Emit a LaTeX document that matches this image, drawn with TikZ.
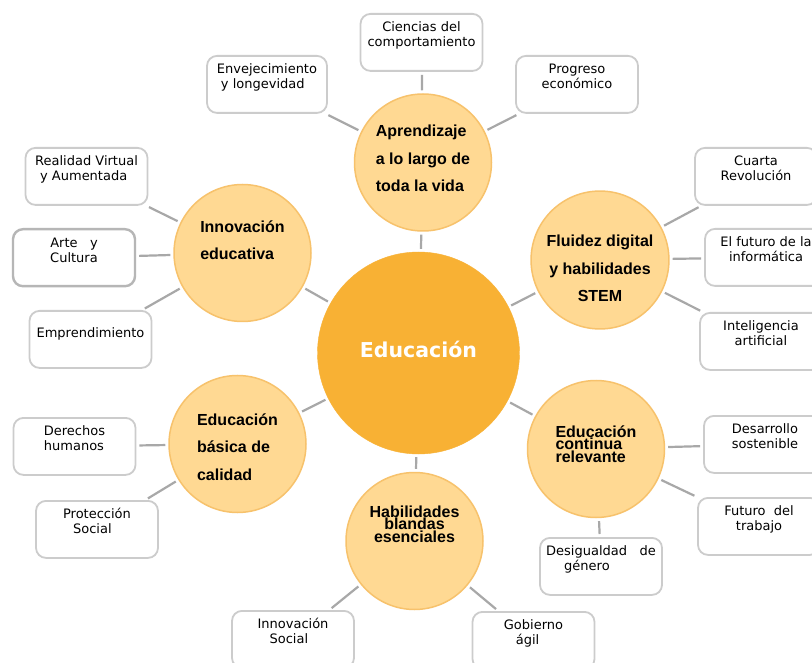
\documentclass[tikz,border=0pt]{standalone}
\usepackage{fontspec}
\usepackage{tikz}
\usetikzlibrary{positioning}
\newfontfamily\boxfont{DejaVu Sans}
\newfontfamily\ringfont{Liberation Sans}
\newfontfamily\hubfont{DejaVu Sans}
\newcommand\tightlines{\lineskiplimit -20pt\relax}
\definecolor{hubfill}{RGB}{248,177,52}
\definecolor{ringfill}{RGB}{255,217,147}
\definecolor{ringline}{RGB}{247,194,108}
\definecolor{boxline}{RGB}{204,204,204}
\definecolor{boxdark}{RGB}{182,182,182}
\definecolor{linkgray}{RGB}{168,168,168}
\tikzset{
  hub/.style={circle, fill=hubfill, draw=hubfill, minimum size=202pt, inner sep=0pt,
    text=white, font=\hubfont\bfseries\fontsize{20.5}{24}\selectfont},
  ring/.style={circle, fill=ringfill, draw=ringline, line width=1.5pt, minimum size=137pt,
    inner sep=0pt, font=\ringfont\bfseries\fontsize{16}{27.5}\selectfont},
  ringtight/.style={ring, font=\ringfont\bfseries\fontsize{16}{12.5}\selectfont\tightlines},
  topic/.style={draw=boxline, line width=1.8pt, rounded corners=10pt, fill=white,
    minimum width=122pt, inner xsep=4pt, inner ysep=7pt, anchor=north, align=center,
    text height=26pt, text depth=17pt, font=\boxfont\fontsize{13}{15}\selectfont},
  topicone/.style={topic, text height=20pt, text depth=23pt},
  link/.style={draw=linkgray, line width=2.2pt, shorten <=3pt, shorten >=3pt}
}
\begin{document}
\begin{tikzpicture}[x=1pt,y=-1pt]
  \path[use as bounding box, fill=white] (0,0) rectangle (812,663);

  % hub and the six themes
  \node[hub, text height=8pt, text depth=0pt] (edu) at (418.5,353) {Educación};
  \node[ring, align=left, text height=62pt, text depth=3pt] (apr) at (423,162.5)
    {Aprendizaje\\a lo largo de\\toda la vida};
  \node[ring, align=left, text height=40pt, text depth=26pt] (inn) at (242.5,253)
    {Innovación\\educativa};
  \node[ring, align=center, text height=86pt, text depth=2pt] (flu) at (600,260)
    {Fluidez digital\\y habilidades\\STEM};
  \node[ring, align=left, text height=74pt, text depth=2pt] (bas) at (237.5,444)
    {Educación\\básica de\\calidad};
  \node[ringtight, align=center, text height=36pt, text depth=34pt] (hab) at (414.5,541)
    {Habilidades\\blandas\\esenciales};
  \node[ringtight, align=left, text height=36pt, text depth=10pt] (con) at (596,449)
    {Educación\\continua\\relevante};

  % topic boxes
  \node[topic] (ciencias) at (421.5,13) {Ciencias del\\comportamiento};
  \node[topic] (progreso) at (577,55) {Progreso\\económico};
  \node[topic, minimum width=120pt, align=left] (envej) at (267,55)
    {Envejecimiento\\\hspace*{4pt}y longevidad};
  \node[topic, align=left] (realidad) at (86.5,147)
    {Realidad Virtual\\\hspace*{5pt}y Aumentada};
  \node[topic, draw=boxdark, line width=2.4pt] (arte) at (74,228) {Arte\ \ \ y\\Cultura};
  \node[topicone] (empr) at (90.5,310) {Emprendimiento};
  \node[topic] (cuarta) at (756,147) {Cuarta\\Revolución};
  \node[topic] (futinf) at (766,228) {El futuro de la\\informática};
  \node[topic] (ia) at (761,312) {Inteligencia\\artificial};
  \node[topic, align=left] (derechos) at (74.5,417) {Derechos\\humanos};
  \node[topic, align=left] (proteccion) at (97,500) {Protección\\\hspace*{10pt}Social};
  \node[topic, align=left] (innsocial) at (293,610) {Innovación\\\hspace*{12pt}Social};
  \node[topic, align=left] (gobierno) at (533.5,611) {Gobierno\\\hspace*{12pt}ágil};
  \node[topic, align=left] (desig) at (601,537) {Desigualdad\ \ \ de\\\hspace*{18pt}género};
  \node[topic] (desarrollo) at (765,415) {Desarrollo\\sostenible};
  \node[topic] (futtrab) at (759,497) {Futuro\ \ del\\trabajo};

  % connectors
  \foreach \a in {apr,inn,flu,bas,hab,con}
    \draw[link] (edu) -- (\a);
  \foreach \b in {ciencias,progreso,envej}
    \draw[link] (apr) -- (\b);
  \foreach \b in {realidad,arte,empr}
    \draw[link] (inn) -- (\b);
  \foreach \b in {cuarta,futinf,ia}
    \draw[link] (flu) -- (\b);
  \foreach \b in {derechos,proteccion}
    \draw[link] (bas) -- (\b);
  \foreach \b in {innsocial,gobierno}
    \draw[link] (hab) -- (\b);
  \foreach \b in {desig,desarrollo,futtrab}
    \draw[link] (con) -- (\b);
\end{tikzpicture}
\end{document}
